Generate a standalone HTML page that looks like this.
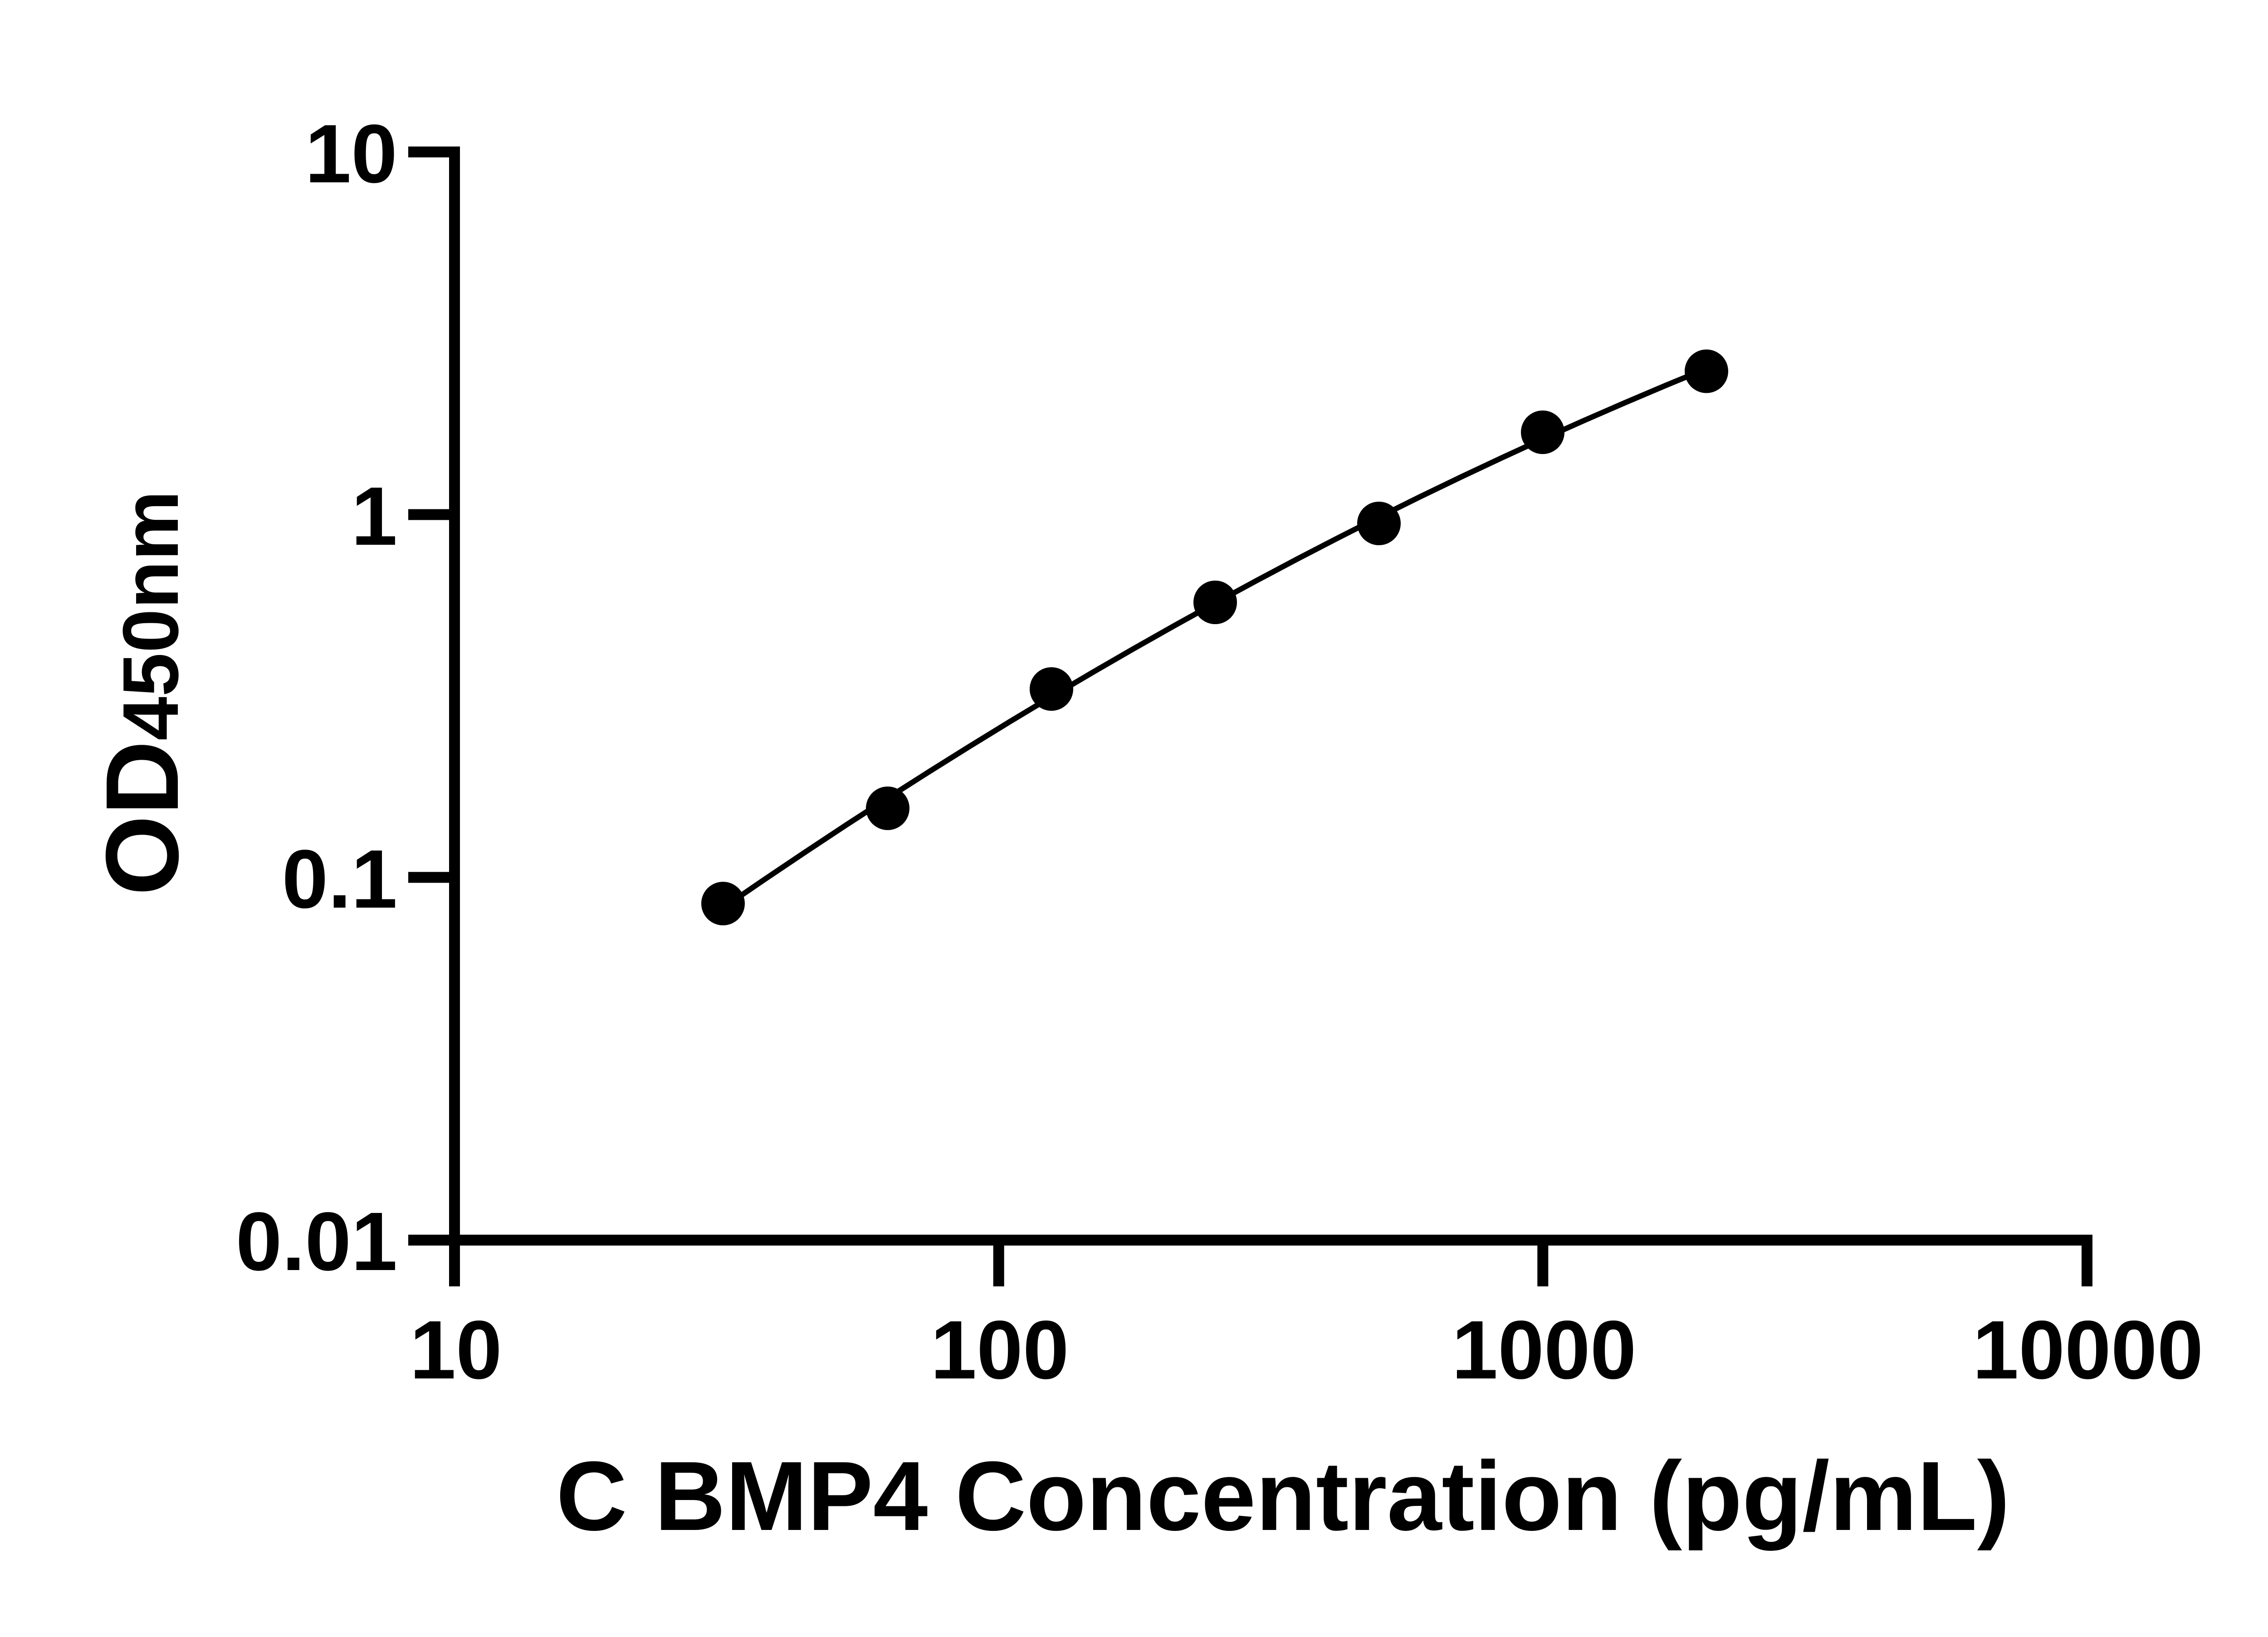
<!DOCTYPE html>
<html>
<head>
<meta charset="utf-8">
<style>
  html, body { margin: 0; padding: 0; background: #ffffff; }
  svg { display: block; }
  text { font-family: "Liberation Sans", Arial, sans-serif; font-weight: bold; fill: #000; }
</style>
</head>
<body>
<svg width="5162" height="3609" viewBox="0 0 5162 3609" xmlns="http://www.w3.org/2000/svg">
  <rect x="0" y="0" width="5162" height="3609" fill="#ffffff"/>

  <!-- Y axis line -->
  <rect x="990" y="323" width="24" height="2513" fill="#000"/>
  <!-- X axis line -->
  <rect x="900" y="2722" width="3713" height="24" fill="#000"/>

  <!-- Y ticks -->
  <rect x="900" y="323" width="114" height="24" fill="#000"/>
  <rect x="900" y="1122.5" width="100" height="24" fill="#000"/>
  <rect x="900" y="1922.3" width="100" height="24" fill="#000"/>

  <!-- X ticks -->
  <rect x="2189.7" y="2734" width="24" height="102" fill="#000"/>
  <rect x="3389.3" y="2734" width="24" height="102" fill="#000"/>
  <rect x="4589" y="2722" width="24" height="114" fill="#000"/>

  <!-- Y tick labels -->
  <text x="876" y="402" font-size="183" text-anchor="end">10</text>
  <text x="876" y="1201" font-size="183" text-anchor="end">1</text>
  <text x="876" y="2001" font-size="183" text-anchor="end">0.1</text>
  <text x="876" y="2800" font-size="183" text-anchor="end">0.01</text>

  <!-- X tick labels -->
  <text x="1005" y="3039" font-size="183" text-anchor="middle">10</text>
  <text x="2204" y="3039" font-size="183" text-anchor="middle">100</text>
  <text x="3404" y="3039" font-size="183" text-anchor="middle">1000</text>
  <text x="4603" y="3039" font-size="183" text-anchor="middle">10000</text>

  <!-- X axis title -->
  <text x="1226" y="3373" font-size="217" textLength="3205" lengthAdjust="spacingAndGlyphs">C BMP4 Concentration (pg/mL)</text>

  <!-- Y axis title -->
  <text transform="translate(392,1528) rotate(-90)" text-anchor="middle"><tspan font-size="228">OD</tspan><tspan font-size="174">450nm</tspan></text>

  <!-- Fitted curve -->
  <polyline fill="none" stroke="#000" stroke-width="12" stroke-linejoin="round" stroke-linecap="round"
    points="1595.4,2000.5 1685.7,1938.7 1776,1878 1866.3,1818.3 1956.6,1759.7 2046.9,1702.2 2137.2,1645.7 2227.5,1590.3 2317.8,1536 2408.1,1482.8 2498.4,1430.6 2588.7,1379.5 2679,1329.5 2769.3,1280.5 2859.6,1232.6 2949.9,1185.8 3040.2,1140 3130.5,1095.3 3220.8,1051.7 3311.1,1009.2 3401.4,967.7 3491.7,927.3 3582,888 3672.3,849.7 3762.6,812.5"/>

  <!-- Data points -->
  <circle cx="1594" cy="1992" r="48" fill="#000"/>
  <circle cx="1957" cy="1782" r="48" fill="#000"/>
  <circle cx="2318" cy="1519" r="48" fill="#000"/>
  <circle cx="2679" cy="1328" r="48" fill="#000"/>
  <circle cx="3040" cy="1154" r="48" fill="#000"/>
  <circle cx="3401" cy="953" r="48" fill="#000"/>
  <circle cx="3762" cy="818.5" r="48" fill="#000"/>
</svg>
</body>
</html>
